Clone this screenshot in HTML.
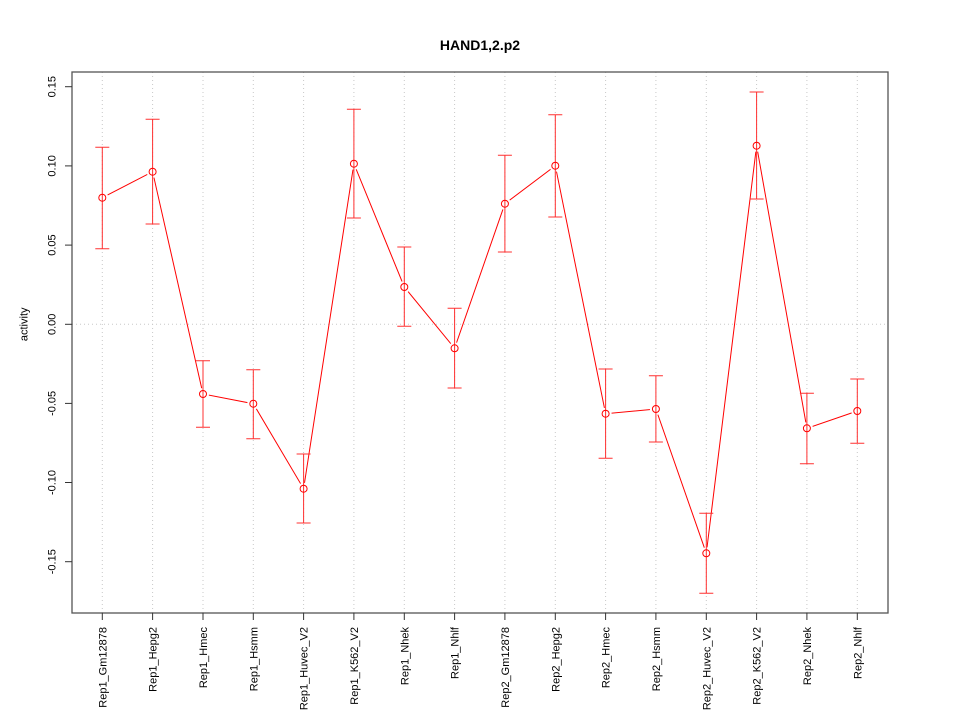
<!DOCTYPE html>
<html><head><meta charset="utf-8"><style>
html,body{margin:0;padding:0;background:#fff;}
svg{display:block;font-family:"Liberation Sans",Arial,sans-serif;}
</style></head><body>
<svg width="960" height="720" viewBox="0 0 960 720" xmlns="http://www.w3.org/2000/svg">
<rect width="960" height="720" fill="#fff"/>
<!-- grid -->
<g stroke="#c8c8c8" stroke-width="1" stroke-dasharray="1,3">
<line x1="102.3" y1="72" x2="102.3" y2="613"/>
<line x1="152.6" y1="72" x2="152.6" y2="613"/>
<line x1="203.0" y1="72" x2="203.0" y2="613"/>
<line x1="253.3" y1="72" x2="253.3" y2="613"/>
<line x1="303.6" y1="72" x2="303.6" y2="613"/>
<line x1="353.9" y1="72" x2="353.9" y2="613"/>
<line x1="404.3" y1="72" x2="404.3" y2="613"/>
<line x1="454.6" y1="72" x2="454.6" y2="613"/>
<line x1="504.9" y1="72" x2="504.9" y2="613"/>
<line x1="555.3" y1="72" x2="555.3" y2="613"/>
<line x1="605.6" y1="72" x2="605.6" y2="613"/>
<line x1="655.9" y1="72" x2="655.9" y2="613"/>
<line x1="706.3" y1="72" x2="706.3" y2="613"/>
<line x1="756.6" y1="72" x2="756.6" y2="613"/>
<line x1="806.9" y1="72" x2="806.9" y2="613"/>
<line x1="857.3" y1="72" x2="857.3" y2="613"/>
<line x1="72" y1="324.3" x2="888" y2="324.3"/>
</g>
<!-- series line -->
<polyline fill="none" stroke="#ff0000" stroke-width="1" points="102.3,197.7 152.6,171.7 203.0,394 253.3,403.7 303.6,488.7 353.9,163.7 404.3,287 454.6,348.3 504.9,203.7 555.3,165.7 605.6,413.7 655.9,409 706.3,553.3 756.6,145.7 806.9,428.3 857.3,411"/>
<g fill="#fff" stroke="none">
<circle cx="102.3" cy="197.7" r="6"/><circle cx="152.6" cy="171.7" r="6"/><circle cx="203.0" cy="394" r="6"/><circle cx="253.3" cy="403.7" r="6"/><circle cx="303.6" cy="488.7" r="6"/><circle cx="353.9" cy="163.7" r="6"/><circle cx="404.3" cy="287" r="6"/><circle cx="454.6" cy="348.3" r="6"/><circle cx="504.9" cy="203.7" r="6"/><circle cx="555.3" cy="165.7" r="6"/><circle cx="605.6" cy="413.7" r="6"/><circle cx="655.9" cy="409" r="6"/><circle cx="706.3" cy="553.3" r="6"/><circle cx="756.6" cy="145.7" r="6"/><circle cx="806.9" cy="428.3" r="6"/><circle cx="857.3" cy="411" r="6"/>
</g>
<!-- error bars -->
<g stroke="#ff3030" stroke-width="1" fill="none">
<path d="M102.3,147.3V248.7M95.3,147.3H109.3M95.3,248.7H109.3"/>
<path d="M152.6,119.3V224M145.6,119.3H159.6M145.6,224H159.6"/>
<path d="M203.0,360.7V427.3M196,360.7H210M196,427.3H210"/>
<path d="M253.3,369.7V438.7M246.3,369.7H260.3M246.3,438.7H260.3"/>
<path d="M303.6,454V523M296.6,454H310.6M296.6,523H310.6"/>
<path d="M353.9,109.3V218M346.9,109.3H360.9M346.9,218H360.9"/>
<path d="M404.3,247V326.3M397.3,247H411.3M397.3,326.3H411.3"/>
<path d="M454.6,308.3V388M447.6,308.3H461.6M447.6,388H461.6"/>
<path d="M504.9,155.3V252M497.9,155.3H511.9M497.9,252H511.9"/>
<path d="M555.3,114.7V217M548.3,114.7H562.3M548.3,217H562.3"/>
<path d="M605.6,369V458.3M598.6,369H612.6M598.6,458.3H612.6"/>
<path d="M655.9,375.7V442M648.9,375.7H662.9M648.9,442H662.9"/>
<path d="M706.3,513.3V593.3M699.3,513.3H713.3M699.3,593.3H713.3"/>
<path d="M756.6,92V199M749.6,92H763.6M749.6,199H763.6"/>
<path d="M806.9,393.3V463.7M799.9,393.3H813.9M799.9,463.7H813.9"/>
<path d="M857.3,379V443.3M850.3,379H864.3M850.3,443.3H864.3"/>
</g>
<!-- points -->
<g fill="none" stroke="#ff0000" stroke-width="1">
<circle cx="102.3" cy="197.7" r="3.5"/><circle cx="152.6" cy="171.7" r="3.5"/><circle cx="203.0" cy="394" r="3.5"/><circle cx="253.3" cy="403.7" r="3.5"/><circle cx="303.6" cy="488.7" r="3.5"/><circle cx="353.9" cy="163.7" r="3.5"/><circle cx="404.3" cy="287" r="3.5"/><circle cx="454.6" cy="348.3" r="3.5"/><circle cx="504.9" cy="203.7" r="3.5"/><circle cx="555.3" cy="165.7" r="3.5"/><circle cx="605.6" cy="413.7" r="3.5"/><circle cx="655.9" cy="409" r="3.5"/><circle cx="706.3" cy="553.3" r="3.5"/><circle cx="756.6" cy="145.7" r="3.5"/><circle cx="806.9" cy="428.3" r="3.5"/><circle cx="857.3" cy="411" r="3.5"/>
</g>
<!-- box -->
<rect x="72" y="72" width="816" height="541" fill="none" stroke="#555" stroke-width="1.3"/>
<!-- y ticks -->
<g stroke="#333" stroke-width="1">
<line x1="65" y1="86.7" x2="72" y2="86.7"/>
<line x1="65" y1="165.9" x2="72" y2="165.9"/>
<line x1="65" y1="245.1" x2="72" y2="245.1"/>
<line x1="65" y1="324.3" x2="72" y2="324.3"/>
<line x1="65" y1="403.4" x2="72" y2="403.4"/>
<line x1="65" y1="482.5" x2="72" y2="482.5"/>
<line x1="65" y1="561.7" x2="72" y2="561.7"/>
</g>
<g font-size="11" fill="#000" text-anchor="middle">
<text transform="translate(55.5,86.7) rotate(-90)">0.15</text>
<text transform="translate(55.5,165.9) rotate(-90)">0.10</text>
<text transform="translate(55.5,245.1) rotate(-90)">0.05</text>
<text transform="translate(55.5,324.3) rotate(-90)">0.00</text>
<text transform="translate(55.5,403.4) rotate(-90)">-0.05</text>
<text transform="translate(55.5,482.5) rotate(-90)">-0.10</text>
<text transform="translate(55.5,561.7) rotate(-90)">-0.15</text>
<text transform="translate(27.5,324.3) rotate(-90)">activity</text>
</g>
<!-- x ticks -->
<g stroke="#333" stroke-width="1">
<line x1="102.3" y1="613" x2="102.3" y2="620"/><line x1="152.6" y1="613" x2="152.6" y2="620"/><line x1="203.0" y1="613" x2="203.0" y2="620"/><line x1="253.3" y1="613" x2="253.3" y2="620"/><line x1="303.6" y1="613" x2="303.6" y2="620"/><line x1="353.9" y1="613" x2="353.9" y2="620"/><line x1="404.3" y1="613" x2="404.3" y2="620"/><line x1="454.6" y1="613" x2="454.6" y2="620"/><line x1="504.9" y1="613" x2="504.9" y2="620"/><line x1="555.3" y1="613" x2="555.3" y2="620"/><line x1="605.6" y1="613" x2="605.6" y2="620"/><line x1="655.9" y1="613" x2="655.9" y2="620"/><line x1="706.3" y1="613" x2="706.3" y2="620"/><line x1="756.6" y1="613" x2="756.6" y2="620"/><line x1="806.9" y1="613" x2="806.9" y2="620"/><line x1="857.3" y1="613" x2="857.3" y2="620"/>
</g>
<g font-size="11" fill="#000" text-anchor="end">
<text transform="translate(106.3,627) rotate(-90)">Rep1_Gm12878</text>
<text transform="translate(156.6,627) rotate(-90)">Rep1_Hepg2</text>
<text transform="translate(207.0,627) rotate(-90)">Rep1_Hmec</text>
<text transform="translate(257.3,627) rotate(-90)">Rep1_Hsmm</text>
<text transform="translate(307.6,627) rotate(-90)">Rep1_Huvec_V2</text>
<text transform="translate(357.9,627) rotate(-90)">Rep1_K562_V2</text>
<text transform="translate(408.3,627) rotate(-90)">Rep1_Nhek</text>
<text transform="translate(458.6,627) rotate(-90)">Rep1_Nhlf</text>
<text transform="translate(508.9,627) rotate(-90)">Rep2_Gm12878</text>
<text transform="translate(559.3,627) rotate(-90)">Rep2_Hepg2</text>
<text transform="translate(609.6,627) rotate(-90)">Rep2_Hmec</text>
<text transform="translate(659.9,627) rotate(-90)">Rep2_Hsmm</text>
<text transform="translate(710.3,627) rotate(-90)">Rep2_Huvec_V2</text>
<text transform="translate(760.6,627) rotate(-90)">Rep2_K562_V2</text>
<text transform="translate(810.9,627) rotate(-90)">Rep2_Nhek</text>
<text transform="translate(861.3,627) rotate(-90)">Rep2_Nhlf</text>
</g>
<text x="480" y="50" font-size="14" font-weight="bold" text-anchor="middle" fill="#000">HAND1,2.p2</text>
</svg>
</body></html>
